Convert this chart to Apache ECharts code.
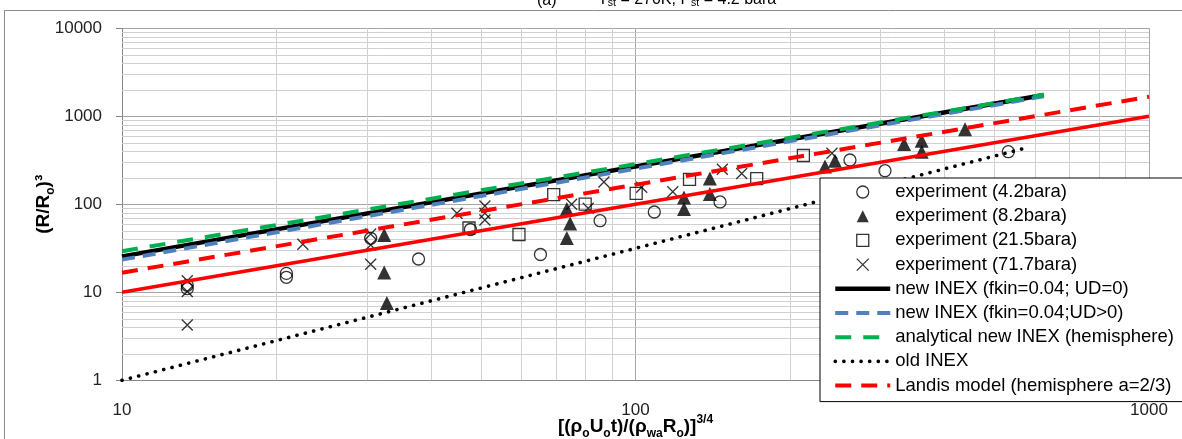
<!DOCTYPE html>
<html><head><meta charset="utf-8">
<script src="https://cdn.jsdelivr.net/npm/echarts@6/dist/echarts.min.js"></script>
<style>html,body{margin:0;padding:0;background:#fff}#c{width:1182px;height:439px}</style>
</head><body><div id="c"></div>
<script>
// ---- data ----
const circleX = [13.4, 13.4, 20.9, 20.9, 30.5, 37.8, 47.7, 65.3, 85.3, 108.8, 146.1, 261.6, 306.1, 532.1];
const circleY = [12.0, 11.0, 16.4, 14.8, 41.1, 23.9, 51.7, 26.9, 65.1, 81.8, 106.3, 318.7, 240.9, 396];
const triX = [32.4, 32.4, 32.8, 73.5, 74.6, 73.5, 124.3, 124.3, 139.6, 139.6, 233.9, 244.6, 333.4, 360.9, 360.9, 438.3];
const triY = [44.8, 16.8, 7.56, 88.5, 60.5, 41.4, 119.5, 88.4, 196.4, 131, 268.9, 313, 484, 528, 396, 711];
const sqX = [47.4, 59.3, 69.3, 79.8, 100.3, 127.4, 172.2, 212.3];
const sqY = [53.8, 45.4, 128.5, 100.7, 133, 192.3, 195.4, 358.5];
const crossX = [13.4, 13.4, 13.4, 22.5, 30.5, 30.5, 30.5, 44.9, 50.9, 50.9, 50.9, 75.1, 80.9, 86.8, 102.8, 118.2, 147.6, 161, 241.3];
const crossY = [13.5, 10.2, 4.25, 35.1, 46.0, 34.5, 20.8, 79, 95.7, 79, 66.3, 100, 90.1, 179, 156, 139, 250, 224, 380];

const inexX = [10, 624];
const inexUD0Y = [25.6, 1750];
const inexUDposY = [23.5, 1690];
const analyticY = [29.3, 1760];
const oldInexX = [10, 570];
const oldInexY = [1, 430];
const landisX = [10, 1000];
const landisY = [16.7, 1670];
const refX = [10, 1000];
const refY = [10, 1000];

const xMinorGrid = [20,30,40,50,60,70,80,90,200,300,400,500,600,700,800,900];
const yMinorGrid = [];
[1,10,100,1000].forEach(d => { for (let k = 2; k <= 9; k++) yMinorGrid.push(k*d); });

const names = ['experiment (4.2bara)','experiment (8.2bara)','experiment (21.5bara)','experiment (71.7bara)',
  'new INEX (fkin=0.04; UD=0)','new INEX (fkin=0.04;UD>0)','analytical new INEX (hemisphere)','old INEX','Landis model (hemisphere a=2/3)'];

const zip = (a, b) => a.map((v, i) => [v, b[i]]);
const FONT = 'Liberation Sans';
const CROSS = 'path://M0,0L10,10M0,10L10,0';
const TRI = 'path://M0,12L6,0L12,12Z';
const SQ = 'path://M0,0L11,0L11,11L0,11Z';

const chart = echarts.init(document.getElementById('c'), null, {renderer: 'canvas'});
const lineS = (name, xs, ys, color, width, type, cap) => ({
  name, type: 'line', data: zip(xs, ys), symbol: 'none', showSymbol: false,
  lineStyle: {color, width, type, cap: cap || 'butt'}, itemStyle: {color}, silent: true, z: 3
});
const hideSym = {color: 'rgba(0,0,0,0)', borderWidth: 0, opacity: 0};

chart.setOption({
  animation: false,
  backgroundColor: '#fff',
  grid: {left: 122, right: 33, top: 28.3, bottom: 58.7, containLabel: false, outerBoundsMode: 'none'},
  xAxis: {
    type: 'log', logBase: 10, min: 10, max: 1000,
    axisLine: {show: true, lineStyle: {color: '#868686', width: 1}},
    axisTick: {show: false},
    axisLabel: {color: '#222', fontFamily: FONT, fontSize: 17, margin: 22, formatter: v => String(v)},
    splitLine: {show: true, lineStyle: {color: '#a6a6a6', width: 1}},
    name: '{a|[(ρ}{s|o}{a|U}{s|o}{a|t)/(ρ}{s|wa}{a|R}{s|o}{a|)]}{p|3/4}',
    nameLocation: 'middle', nameGap: 33, nameMoveOverlap: false,
    nameTextStyle: {
      rich: {
        a: {fontFamily: FONT, fontSize: 19, fontWeight: 'bold', color: '#000', lineHeight: 26, verticalAlign: 'middle'},
        s: {fontFamily: FONT, fontSize: 12, fontWeight: 'bold', color: '#000', lineHeight: 26, verticalAlign: 'bottom'},
        p: {fontFamily: FONT, fontSize: 12, fontWeight: 'bold', color: '#000', lineHeight: 26, verticalAlign: 'top'}
      }
    }
  },
  yAxis: {
    type: 'log', logBase: 10, min: 1, max: 10000,
    axisLine: {show: true, lineStyle: {color: '#868686', width: 1}},
    axisTick: {show: true, length: 6, lineStyle: {color: '#868686'}},
    axisLabel: {color: '#222', fontFamily: FONT, fontSize: 17, margin: 20, formatter: v => String(v)},
    splitLine: {show: true, lineStyle: {color: '#a6a6a6', width: 1}},
    name: '{a|(R/R}{s|o}{a|)³}',
    nameLocation: 'middle', nameGap: 65, nameMoveOverlap: false,
    nameTextStyle: {
      rich: {
        a: {fontFamily: FONT, fontSize: 19, fontWeight: 'bold', color: '#000', lineHeight: 26, verticalAlign: 'middle'},
        s: {fontFamily: FONT, fontSize: 12, fontWeight: 'bold', color: '#000', lineHeight: 26, verticalAlign: 'bottom'}
      }
    }
  },
  legend: {
    data: [
      {name: names[0], icon: 'circle', itemStyle: {borderWidth: 1.3}},
      {name: names[1], icon: TRI, itemStyle: {color: '#000', borderWidth: 0}},
      {name: names[2], icon: SQ, itemStyle: {borderWidth: 1.3}},
      {name: names[3], icon: CROSS, itemStyle: {borderWidth: 1.3}},
      {name: names[4], itemStyle: hideSym, lineStyle: {width: 4.5}},
      {name: names[5], itemStyle: hideSym, lineStyle: {width: 4}},
      {name: names[6], itemStyle: hideSym, lineStyle: {width: 4}},
      {name: names[7], itemStyle: hideSym, lineStyle: {width: 3.6}},
      {name: names[8], itemStyle: hideSym, lineStyle: {width: 4}}
    ],
    orient: 'vertical', left: 820, top: 178, z: 10,
    padding: [4, 200, 6, 13],
    itemWidth: 55, itemHeight: 12, itemGap: 4.2,
    symbolKeepAspect: true,
    backgroundColor: '#fff', borderColor: '#000', borderWidth: 1,
    textStyle: {fontFamily: FONT, fontSize: 18.5, color: '#000', lineHeight: 20},
    selectedMode: false
  },
  graphic: [
    {type: 'rect', shape: {x: 4.5, y: 10.5, width: 1300, height: 600}, style: {fill: 'none', stroke: '#8c8c8c', lineWidth: 1}, silent: true, z: 100},
    {type: 'text', x: 537, y: 9, style: {text: '(a)', fontFamily: FONT, fontSize: 16, fill: '#000', verticalAlign: 'bottom'}, z: 100},
    {type: 'text', x: 598, y: 9, style: {
      text: '{a|T}{s|st}{a| = 270K, P}{s|st}{a| = 4.2 bara}', verticalAlign: 'bottom',
      rich: {
        a: {fontFamily: FONT, fontSize: 16, fill: '#000', lineHeight: 19, verticalAlign: 'middle'},
        s: {fontFamily: FONT, fontSize: 10.5, fill: '#000', lineHeight: 19, verticalAlign: 'bottom'}
      }}, z: 100}
  ],
  series: [
    {type: 'line', data: [], silent: true, z: 1,
     markLine: {silent: true, z: 1, symbol: ['none', 'none'], label: {show: false}, animation: false,
       lineStyle: {color: '#d0d0d0', type: 'solid', width: 1},
       emphasis: {disabled: true},
       data: xMinorGrid.map(v => ({xAxis: v})).concat(yMinorGrid.map(v => ({yAxis: v})))}},
    {name: names[0], type: 'scatter', data: zip(circleX, circleY), symbol: 'circle', symbolSize: 12, symbolKeepAspect: true,
     itemStyle: {color: 'rgba(255,255,255,0)', borderColor: '#000', borderWidth: 1.3}, z: 2},
    {name: names[1], type: 'scatter', data: zip(triX, triY), symbol: 'triangle', symbolSize: 14, symbolKeepAspect: true,
     itemStyle: {color: '#000'}, z: 2},
    {name: names[2], type: 'scatter', data: zip(sqX, sqY), symbol: 'rect', symbolSize: 12, symbolKeepAspect: true,
     itemStyle: {color: 'rgba(255,255,255,0)', borderColor: '#000', borderWidth: 1.3}, z: 2},
    {name: names[3], type: 'scatter', data: zip(crossX, crossY), symbol: CROSS, symbolSize: 11, symbolKeepAspect: true,
     itemStyle: {color: '#000', borderColor: '#000', borderWidth: 1.3}, z: 2},
    lineS('refline', refX, refY, '#ff0000', 3.5, 'solid'),
    lineS(names[8], landisX, landisY, '#ff0000', 4, [16, 10]),
    lineS(names[7], oldInexX, oldInexY, '#000', 3.6, [0.1, 8.5], 'round'),
    lineS(names[4], inexX, inexUD0Y, '#000', 4.5, 'solid'),
    lineS(names[5], inexX, inexUDposY, '#4f81bd', 4, [13, 8]),
    lineS(names[6], inexX, analyticY, '#00b050', 4, [16, 12])
  ]
});
</script></body></html>
